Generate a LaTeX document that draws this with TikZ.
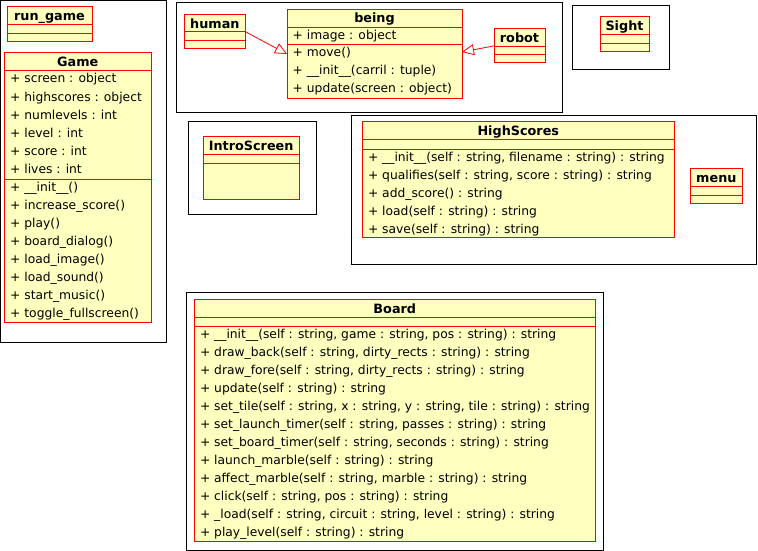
\documentclass[tikz,border=0pt]{standalone}
\usepackage{fontspec}
\setmainfont{DejaVu Sans}
\usetikzlibrary{arrows.meta}
\definecolor{classfill}{RGB}{255,255,192}
\tikzset{
	frame/.style={draw=black, line width=1pt},
	umlclass/.style={draw=red, fill=classfill, line width=1pt, anchor=north west, inner sep=0pt, outer sep=0pt},
	sep/.style={draw=red, line width=1pt},
	classname/.style={anchor=base, inner sep=0pt, font=\fontsize{12.8}{14}\selectfont\bfseries},
	member/.style={anchor=base west, inner sep=0pt, font=\fontsize{12.3}{14}\selectfont},
	inherit/.style={draw=red, line width=0.8pt, -{Triangle[open, length=12pt, width=11pt]}},
}

\begin{document}
\begin{tikzpicture}[x=1pt, y=-1pt]
	\useasboundingbox (0,0) rectangle (758,551);

	% package frames
	\draw[frame] (0.7,0.7) rectangle (166.5,342.3);
	\draw[frame] (176.5,2.7) rectangle (562,112);
	\draw[frame] (572,5.3) rectangle (669,70);
	\draw[frame] (188.3,121.3) rectangle (316.3,214.3);
	\draw[frame] (351.7,115.3) rectangle (756.7,264);
	\draw[frame] (186.7,292.3) rectangle (603.5,550.5);

	% run_game
	\node[umlclass, minimum width=85pt, minimum height=35pt] (rungame) at (7,7) {};
	\draw[sep] (7,25) -- +(85,0);
	\draw[sep] (7,34) -- +(85,0);
	\node[classname] (rungame-t) at ([yshift=-13.5pt]rungame.north) {run\_game};

	% Game
	\node[umlclass, minimum width=146.5pt, minimum height=269.3pt] (game) at (4.5,53) {};
	\draw[sep] (4.5,71) -- +(146.5,0);
	\draw[sep] (4.5,179) -- +(146.5,0);
	\node[classname] (game-t) at ([yshift=-13.5pt]game.north) {Game};
	\foreach \m [count=\i from 0] in {{+ screen : object}, {+ highscores : object}, {+ numlevels : int},
		{+ level : int}, {+ score : int}, {+ lives : int}}
		\node[member] (game-a\i) at (10,83+18*\i) {\m};
	\foreach \m [count=\i from 0] in {{+ \_\_init\_\_()}, {+ increase\_score()}, {+ play()}, {+ board\_dialog()},
		{+ load\_image()}, {+ load\_sound()}, {+ start\_music()}, {+ toggle\_fullscreen()}}
		\node[member] (game-m\i) at (10,191+18*\i) {\m};

	% human, being, robot
	\node[umlclass, minimum width=61.7pt, minimum height=34.3pt] (human) at (184,14.7) {};
	\draw[sep] (184,32) -- +(61.7,0);
	\draw[sep] (184,41) -- +(61.7,0);
	\node[classname] (human-t) at ([yshift=-13.5pt]human.north) {human};

	\node[umlclass, minimum width=175pt, minimum height=89.4pt] (being) at (287,9.3) {};
	\draw[sep] (287,27.5) -- +(175,0);
	\draw[sep] (287,44.7) -- +(175,0);
	\node[classname] (being-t) at ([yshift=-13.5pt]being.north) {being};
	\node[member] (being-a0) at (292.5,39.5) {+ image : object};
	\foreach \m [count=\i from 0] in {{+ move()}, {+ \_\_init\_\_(carril : tuple)}, {+ update(screen : object)}}
		\node[member] (being-m\i) at (292.5,56.7+18*\i) {\m};

	\node[umlclass, minimum width=51pt, minimum height=34.3pt] (robot) at (494,28.7) {};
	\draw[sep] (494,46.3) -- +(51,0);
	\draw[sep] (494,54.7) -- +(51,0);
	\node[classname] (robot-t) at ([yshift=-13.5pt]robot.north) {robot};

	\draw[inherit] (human.east) -- (being.west);
	\draw[inherit] (robot.west) -- ([yshift=2pt]being.east);

	% Sight
	\node[umlclass, minimum width=49pt, minimum height=35pt] (sight) at (600,17) {};
	\draw[sep] (600,35) -- +(49,0);
	\draw[sep] (600,43.7) -- +(49,0);
	\node[classname] (sight-t) at ([yshift=-13.5pt]sight.north) {Sight};

	% IntroScreen
	\node[umlclass, minimum width=95.7pt, minimum height=62.6pt] (intro) at (203.3,136.7) {};
	\draw[sep] (203.3,154.5) -- +(95.7,0);
	\draw[sep] (203.3,163.3) -- +(95.7,0);
	\node[classname] (intro-t) at ([yshift=-13.5pt]intro.north) {IntroScreen};

	% HighScores and menu
	\node[umlclass, minimum width=312pt, minimum height=115.3pt] (highscores) at (362.3,121.7) {};
	\draw[sep] (362.3,139.7) -- +(312,0);
	\draw[sep] (362.3,149) -- +(312,0);
	\node[classname] (highscores-t) at ([yshift=-13.5pt]highscores.north) {HighScores};
	\foreach \m [count=\i from 0] in {{+ \_\_init\_\_(self : string, filename : string) : string},
		{+ qualifies(self : string, score : string) : string}, {+ add\_score() : string},
		{+ load(self : string) : string}, {+ save(self : string) : string}}
		\node[member] (highscores-m\i) at (367.8,161+18*\i) {\m};

	\node[umlclass, minimum width=51.3pt, minimum height=34.6pt] (menu) at (690.7,168.7) {};
	\draw[sep] (690.7,186.7) -- +(51.3,0);
	\draw[sep] (690.7,195.3) -- +(51.3,0);
	\node[classname] (menu-t) at ([yshift=-13.5pt]menu.north) {menu};

	% Board
	\node[umlclass, minimum width=401pt, minimum height=242pt] (board) at (194.3,299.7) {};
	\draw[sep] (194.3,317.7) -- +(401,0);
	\draw[sep] (194.3,326.3) -- +(401,0);
	\node[classname] (board-t) at ([yshift=-13.5pt]board.north) {Board};
	\foreach \m [count=\i from 0] in {{+ \_\_init\_\_(self : string, game : string, pos : string) : string},
		{+ draw\_back(self : string, dirty\_rects : string) : string},
		{+ draw\_fore(self : string, dirty\_rects : string) : string},
		{+ update(self : string) : string},
		{+ set\_tile(self : string, x : string, y : string, tile : string) : string},
		{+ set\_launch\_timer(self : string, passes : string) : string},
		{+ set\_board\_timer(self : string, seconds : string) : string},
		{+ launch\_marble(self : string) : string},
		{+ affect\_marble(self : string, marble : string) : string},
		{+ click(self : string, pos : string) : string},
		{+ \_load(self : string, circuit : string, level : string) : string},
		{+ play\_level(self : string) : string}}
		\node[member] (board-m\i) at (199.8,338.3+18*\i) {\m};
\end{tikzpicture}
\end{document}
